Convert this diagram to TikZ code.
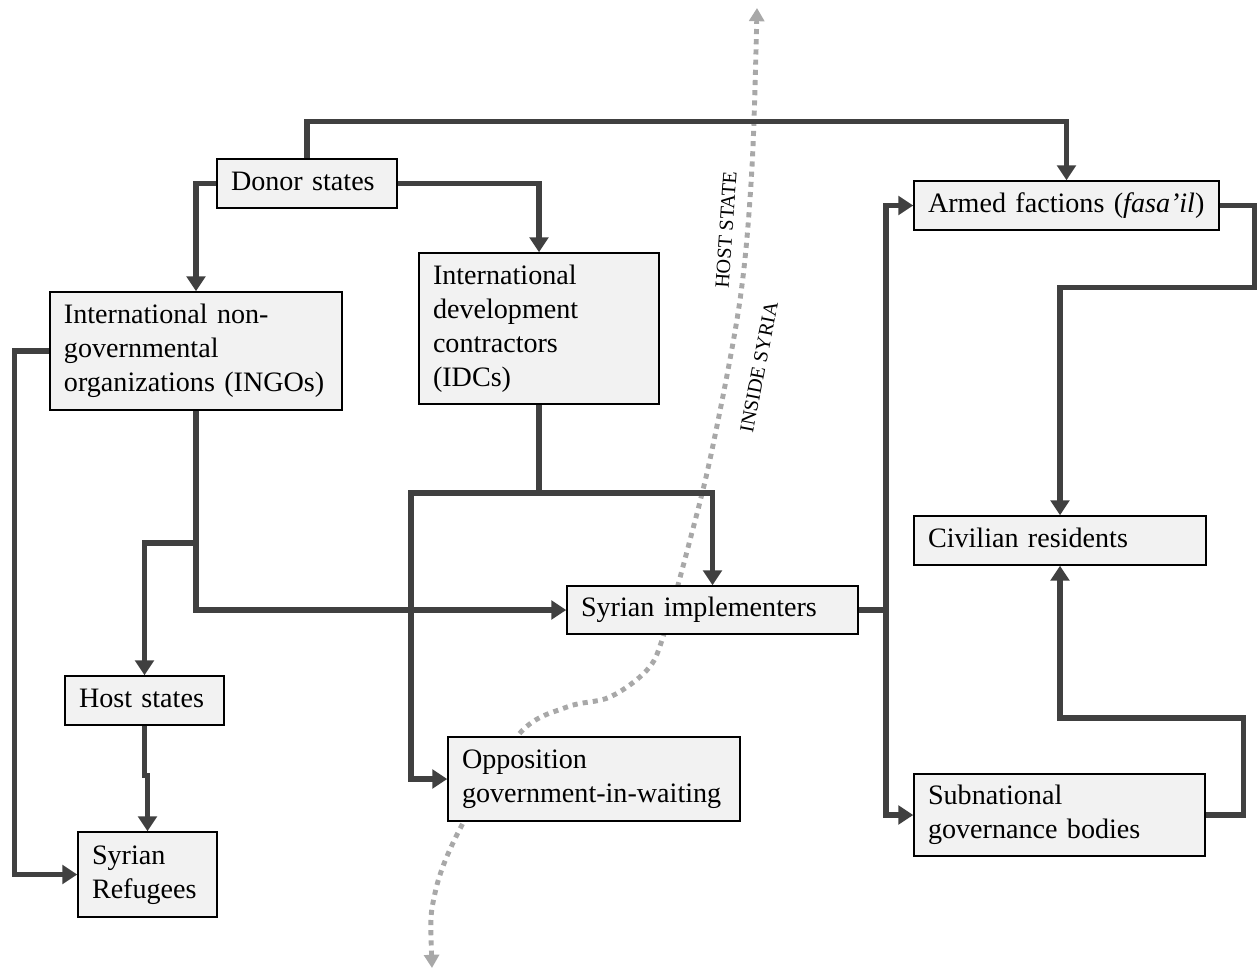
\documentclass[tikz,border=0pt]{standalone}
\usepackage{fontspec}
\setmainfont{Liberation Serif}
\usepackage{tikz}
\usetikzlibrary{arrows.meta}
\definecolor{boxfill}{HTML}{F2F2F2}
\definecolor{flowline}{HTML}{404040}
\definecolor{borderline}{HTML}{A8A8A8}

\begin{document}
\begin{tikzpicture}[
  x=0.2mm, y=-0.2mm,
  actor/.style={rectangle, draw, line width=0.8pt, fill=boxfill, align=left,
                inner xsep=0.28cm, inner ysep=0pt, font=\fontsize{16}{19.3}\selectfont,
                execute at begin node=\strut, execute at end node=\strut},
  flow/.style={line width=3.1pt, flowline, -{Triangle[width=10.5pt, length=8.5pt]}},
  link/.style={line width=3.1pt, flowline},
  border/.style={line width=2.8pt, borderline, dash pattern=on 2.9pt off 2.9pt,
                 {Triangle[width=8.5pt, length=7.5pt]}-{Triangle[width=8.5pt, length=7.5pt]}},
  side/.style={font=\fontsize{11.5}{13}\selectfont},
]
\useasboundingbox (0,0) rectangle (1257,974);

\draw[border] plot[smooth, tension=0.55] coordinates {(432,968) (435,893) (463,823)
  (520,733) (567,707) (610,697) (647,670) (663,637) (690,540) (712,450) (740,300)
  (752,167) (757,8)};

\node[side, rotate=86] (hoststate) at (726,230) {HOST STATE};
\node[side, rotate=79] (insidesyria) at (759,367) {INSIDE SYRIA};

\node[actor, text width=3.04cm, minimum height=0.98cm] (donor) at (307,183.5) {Donor states};
\node[actor, text width=5.28cm, minimum height=2.36cm] (ingo) at (196,351)
  {International non-\\governmental\\organizations (INGOs)};
\node[actor, text width=4.24cm, minimum height=3.02cm] (idc) at (539,328.5)
  {International\\development\\contractors\\(IDCs)};
\node[actor, text width=5.54cm, minimum height=0.98cm] (armed) at (1066.5,205.5)
  {Armed factions (\textit{fasa'il})};
\node[actor, text width=5.28cm, minimum height=0.98cm] (civil) at (1060,540.5) {Civilian residents};
\node[actor, text width=5.26cm, minimum height=0.96cm] (impl) at (712.5,610) {Syrian implementers};
\node[actor, text width=2.62cm, minimum height=0.98cm] (host) at (144.5,700.5) {Host states};
\node[actor, text width=2.22cm, minimum height=1.70cm] (refugee) at (147.5,874.5) {Syrian\\Refugees};
\node[actor, text width=5.28cm, minimum height=1.68cm] (opp) at (594,779)
  {Opposition\\government-in-waiting};
\node[actor, text width=5.26cm, minimum height=1.64cm] (sub) at (1059.5,815)
  {Subnational\\governance bodies};

\coordinate (ingojoin) at (196,543);
\coordinate (idcjoin) at (539,493);
\coordinate (impljoin) at (886,610);

\draw[flow] (donor.north) -- ++(0,-37) -| (armed.north);
\draw[flow] (donor.west) -| (ingo.north);
\draw[flow] (donor.east) -| (idc.north);
\draw[flow] (ingo.west) -- ++(-35,0) |- (refugee.west);
\draw[link] (ingo.south) -- (ingojoin);
\draw[flow] (ingojoin) -| (host.north);
\draw[flow] (ingojoin) |- (impl.west);
\draw[flow] (host.south) -- ++(0,50) -| (refugee.north);
\draw[link] (idc.south) -- (idcjoin);
\draw[flow] (idcjoin) -| (impl.north);
\draw[flow] (idcjoin) -- ++(-128,0) |- (opp.west);
\draw[link] (impl.east) -- (impljoin);
\draw[flow] (impljoin) |- (armed.west);
\draw[flow] (impljoin) |- (sub.west);
\draw[flow] (armed.east) -- ++(35,0) -- ++(0,82) -| (civil.north);
\draw[flow] (sub.east) -- ++(38,0) -- ++(0,-97) -| (civil.south);

\end{tikzpicture}
\end{document}
